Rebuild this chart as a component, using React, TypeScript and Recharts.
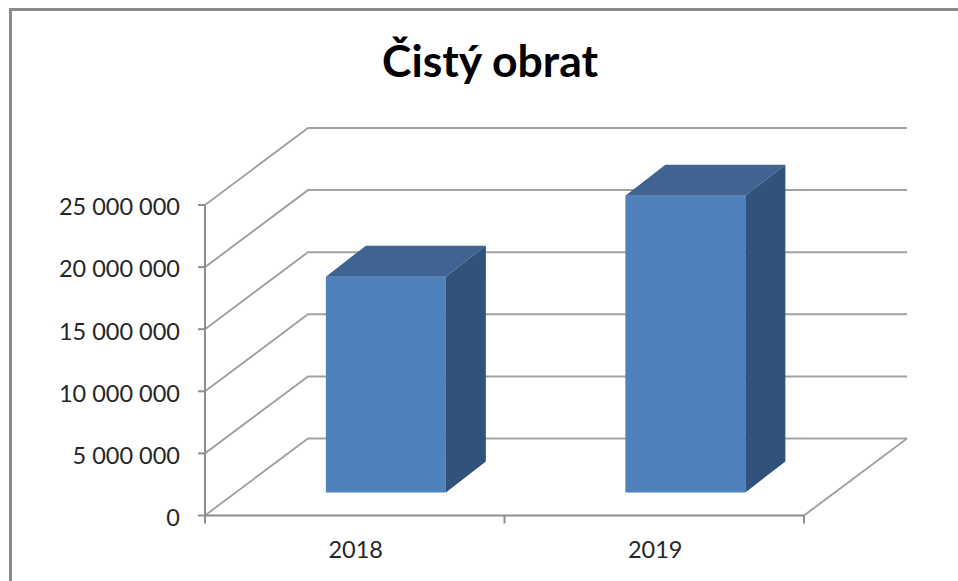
import { BarChart, Bar, XAxis, YAxis, CartesianGrid } from "recharts";

const years = ["2018", "2019"];
const revenue = [17380000, 23900000];
const yTicks = [0, 5000000, 10000000, 15000000, 20000000, 25000000];

const data = years.map((year, i) => ({ year, revenue: revenue[i] }));

// depth of the fake 3D box
const WALL_DX = 103;
const WALL_DY = -77;
const BAR_SHIFT_X = 31;
const BAR_SHIFT_Y = -23;
const BAR_DX = 40;
const BAR_DY = -31;

const GRID = "#a3a3a3";
const AXIS = "#8e8e8e";
const FONT = "Lato, 'Open Sans', sans-serif";

const formatTick = (v: number) => String(v).replace(/\B(?=(\d{3})+$)/g, " ");

const Bar3D = (props: any) => {
    const x = props.x + BAR_SHIFT_X;
    const y = props.y + BAR_SHIFT_Y;
    const { width, height } = props;
    return (
        <g>
            <rect x={x} y={y} width={width} height={height} fill="#4f81bd" />
            <polygon
                points={`${x},${y} ${x + BAR_DX},${y + BAR_DY} ${x + width + BAR_DX},${y + BAR_DY} ${x + width},${y}`}
                fill="#3f6491"
            />
            <polygon
                points={`${x + width},${y} ${x + width + BAR_DX},${y + BAR_DY} ${x + width + BAR_DX},${y + height + BAR_DY} ${x + width},${y + height}`}
                fill="#31527a"
            />
        </g>
    );
};

const GridLine = (props: any) => {
    const { x1, x2, y1, index } = props;
    const isFloor = y1 > 500;
    return (
        <g key={index}>
            <polyline
                points={`${x1},${y1} ${x1 + WALL_DX},${y1 + WALL_DY} ${x2 + WALL_DX},${y1 + WALL_DY}`}
                fill="none"
                stroke={GRID}
                strokeWidth={2}
            />
            {isFloor && (
                <line x1={x2} y1={y1} x2={x2 + WALL_DX} y2={y1 + WALL_DY} stroke={GRID} strokeWidth={2} />
            )}
        </g>
    );
};

const YearTick = (props: any) => {
    const { x, y, payload, index } = props;
    const half = payload.offset ?? 149.75;
    return (
        <g>
            <line x1={x - half} y1={y - 8} x2={x - half} y2={y} stroke={AXIS} strokeWidth={2} />
            {index === years.length - 1 && (
                <line x1={x + half} y1={y - 8} x2={x + half} y2={y} stroke={AXIS} strokeWidth={2} />
            )}
            <text x={x + 1} y={y + 34} textAnchor="middle" fontFamily={FONT} fontSize={23.5} fill="#262626">
                {payload.value}
            </text>
        </g>
    );
};

const App = () => {
    return (
        <div style={{ position: "absolute", left: 0, top: 0, width: 958, height: 581, overflow: "hidden", background: "#fff" }}>
            <div
                style={{
                    position: "absolute",
                    left: 9,
                    top: 8,
                    width: 960,
                    height: 600,
                    borderLeft: "3px solid #8a8a8a",
                    borderTop: "3px solid #8a8a8a",
                }}
            />
            <div
                style={{
                    position: "absolute",
                    left: 0,
                    width: 980,
                    top: 35,
                    textAlign: "center",
                    fontFamily: FONT,
                    fontWeight: 700,
                    fontSize: 44.5,
                    lineHeight: "50px",
                    color: "#000",
                }}
            >
                Čistý obrat
            </div>
            <BarChart
                width={958}
                height={581}
                data={data}
                margin={{ top: 205, right: 154, bottom: 0, left: 0 }}
                barCategoryGap="30%"
                style={{ position: "absolute", left: 0, top: 0 }}
            >
                <CartesianGrid vertical={false} horizontal={GridLine} />
                <XAxis
                    dataKey="year"
                    height={65.5}
                    interval={0}
                    tickLine={false}
                    tick={YearTick}
                    axisLine={{ stroke: AXIS, strokeWidth: 2 }}
                />
                <YAxis
                    width={205}
                    domain={[0, 25000000]}
                    ticks={yTicks}
                    interval={0}
                    tickFormatter={formatTick}
                    tickSize={7}
                    tickMargin={18}
                    tick={{ fontFamily: FONT, fontSize: 23.5, fill: "#262626", dy: 2 }}
                    tickLine={{ stroke: AXIS, strokeWidth: 2 }}
                    axisLine={{ stroke: AXIS, strokeWidth: 2 }}
                />
                <Bar dataKey="revenue" shape={Bar3D} isAnimationActive={false} />
            </BarChart>
        </div>
    );
};

export default App;
